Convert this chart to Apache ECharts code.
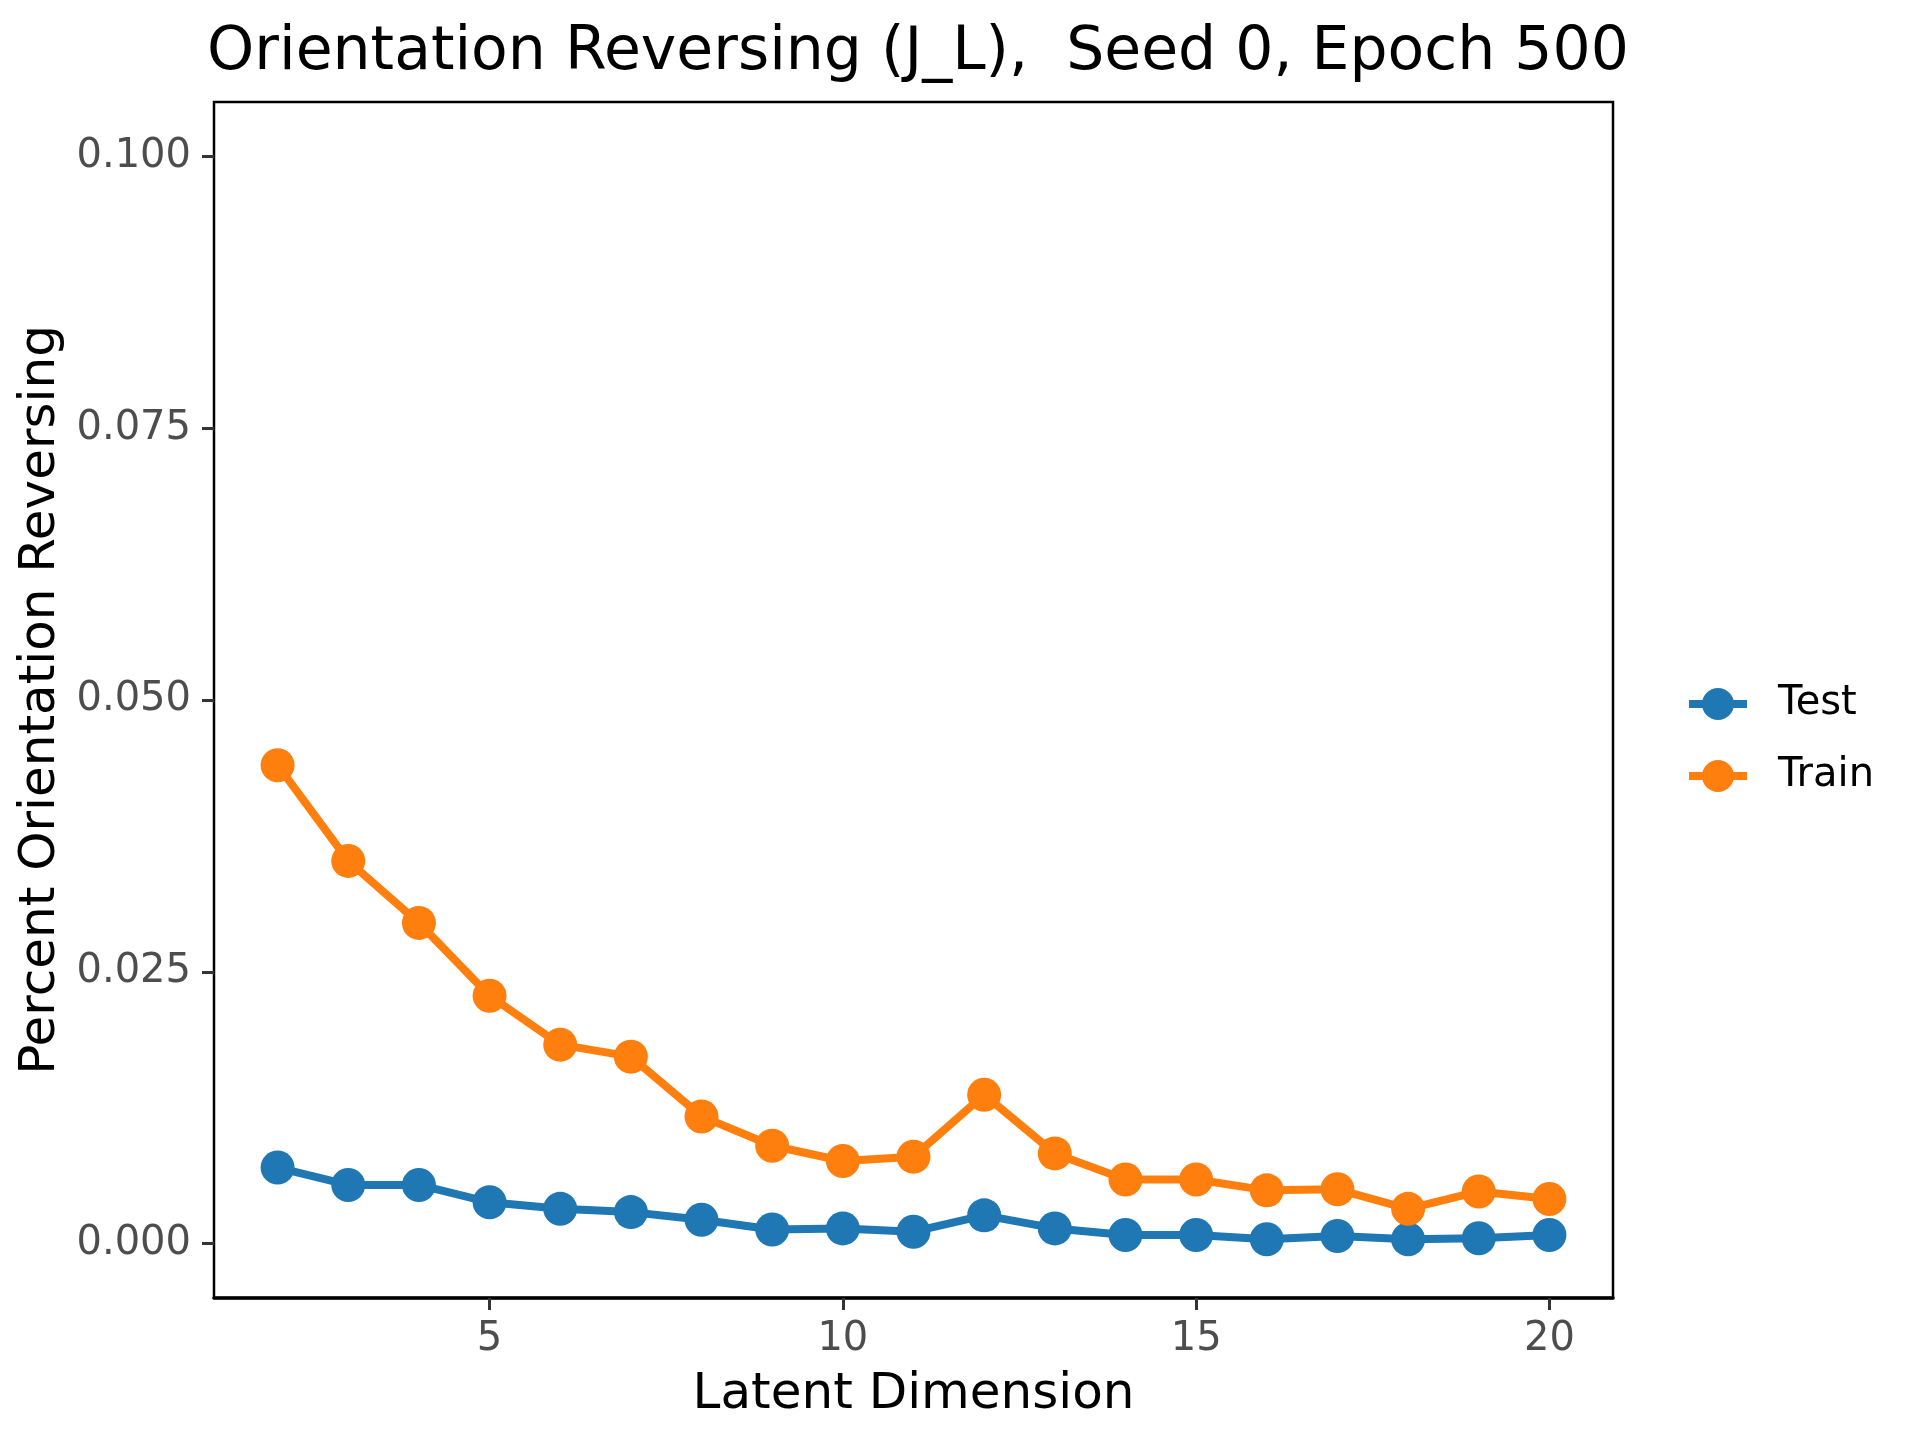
<!DOCTYPE html>
<html>
<head>
<meta charset="utf-8">
<script src="https://cdn.jsdelivr.net/npm/echarts@6/dist/echarts.min.js"></script>
<style>
  html, body { margin: 0; padding: 0; background: #fff; }
  #chart { width: 1920px; height: 1440px; }
</style>
</head>
<body>
<div id="chart"></div>
<script>
// Latent dimensions on the x axis
const dims = [2, 3, 4, 5, 6, 7, 8, 9, 10, 11, 12, 13, 14, 15, 16, 17, 18, 19, 20];

// Fraction of orientation reversing maps
const testVals = [0.0070, 0.0054, 0.0054, 0.0038, 0.0032, 0.0029, 0.0022, 0.0013, 0.0014, 0.0011,
                  0.0026, 0.0014, 0.0008, 0.0008, 0.0004, 0.0007, 0.0004, 0.0005, 0.0008];
const trainVals = [0.0440, 0.0352, 0.0295, 0.0228, 0.0183, 0.0172, 0.0117, 0.0090, 0.0076, 0.0080,
                   0.0137, 0.0083, 0.0059, 0.0059, 0.0049, 0.0050, 0.0032, 0.0048, 0.0041];

const xTicks = [5, 10, 15, 20];
const yTicks = [0, 0.025, 0.05, 0.075, 0.1];

const FONT = 'DejaVu Sans';

function pairs(vals) {
    return dims.map((d, i) => [d, vals[i]]);
}

function lineSeries(name, vals, color) {
    return {
        name: name,
        type: 'line',
        data: pairs(vals),
        symbol: 'circle',
        symbolSize: 34,
        color: color,
        lineStyle: { width: 8, color: color },
        itemStyle: { color: color },
        emphasis: { disabled: true }
    };
}

const chart = echarts.init(document.getElementById('chart'), null, { renderer: 'canvas' });

chart.setOption({
    animation: false,
    backgroundColor: '#ffffff',
    title: {
        text: 'Orientation Reversing (J_L),  Seed 0, Epoch 500',
        left: 913,
        top: 18,
        textAlign: 'center',
        textStyle: { fontFamily: FONT, fontSize: 60, fontWeight: 'normal', color: '#000' }
    },
    grid: {
        left: 214, top: 102, width: 1399, height: 1196,
        show: true, borderColor: '#000', borderWidth: 2.5, backgroundColor: '#fff'
    },
    legend: {
        orient: 'vertical',
        left: 1680,
        top: 679,
        itemWidth: 58,
        itemHeight: 40,
        itemGap: 32,
        data: ['Test', 'Train'],
        lineStyle: { width: 8 },
        textStyle: { fontFamily: FONT, fontSize: 40, color: '#000', padding: [0, 0, 0, 26] }
    },
    xAxis: {
        type: 'value',
        min: 1.1,
        max: 20.9,
        name: 'Latent Dimension',
        nameLocation: 'middle',
        nameGap: 72,
        nameTextStyle: { fontFamily: FONT, fontSize: 50, color: '#000' },
        splitLine: { show: false },
        axisLine: { show: true, onZero: false, lineStyle: { color: '#000', width: 3.5 } },
        axisTick: { show: true, customValues: xTicks, length: 12, lineStyle: { color: '#333', width: 3 } },
        axisLabel: {
            customValues: xTicks, margin: 22,
            fontFamily: FONT, fontSize: 40, color: '#4D4D4D'
        }
    },
    yAxis: {
        type: 'value',
        min: -0.005,
        max: 0.105,
        name: 'Percent Orientation Reversing',
        nameLocation: 'middle',
        nameGap: 132,
        nameTextStyle: { fontFamily: FONT, fontSize: 50, color: '#000' },
        splitLine: { show: false },
        axisLine: { show: false, onZero: false },
        axisTick: { show: true, customValues: yTicks, length: 12, lineStyle: { color: '#333', width: 3 } },
        axisLabel: {
            customValues: yTicks, margin: 23,
            fontFamily: FONT, fontSize: 40, color: '#4D4D4D',
            formatter: v => v.toFixed(3)
        }
    },
    series: [
        lineSeries('Test', testVals, '#1F77B4'),
        lineSeries('Train', trainVals, '#FF7F0E')
    ]
});
</script>
</body>
</html>
